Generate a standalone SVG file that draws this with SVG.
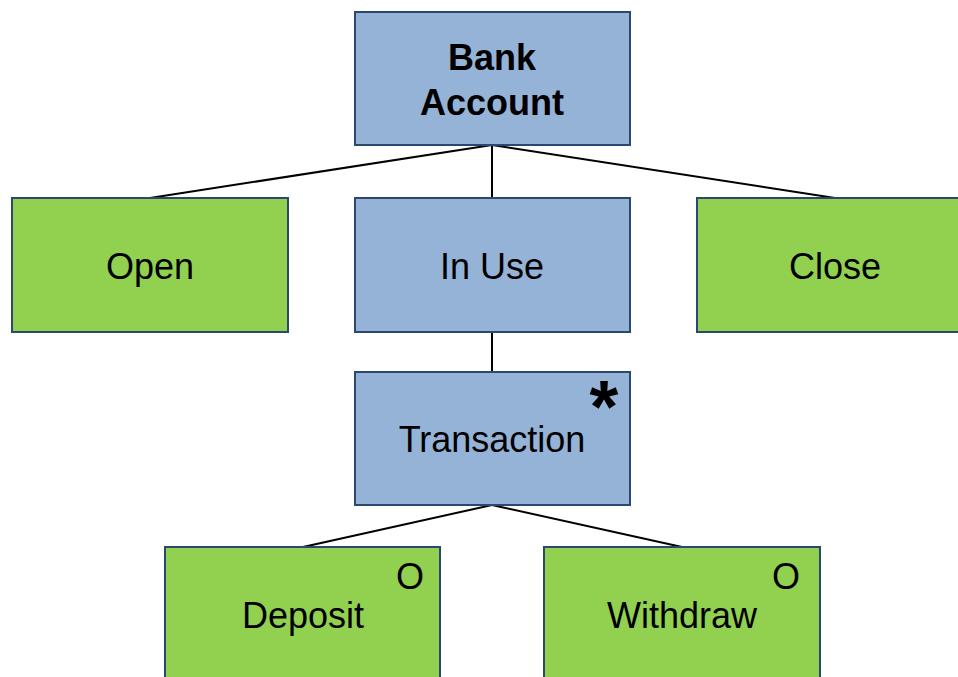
<svg xmlns="http://www.w3.org/2000/svg" width="958" height="677" viewBox="0 0 958 677">
<style>
.blue{fill:#95B3D7;stroke:#2C4770;stroke-width:2}
.green{fill:#92D050;stroke:#2C4770;stroke-width:2}
text{font-family:"Liberation Sans",Arial,sans-serif;font-size:36px;fill:#000;text-anchor:middle}
.b{font-weight:bold}
.conn line{stroke:#000;stroke-width:2}
</style>
<rect width="958" height="677" fill="#fff"/>
<g class="conn">
<line x1="492" y1="145" x2="150" y2="198"/>
<line x1="492" y1="145" x2="492" y2="198"/>
<line x1="492" y1="145" x2="835" y2="198"/>
<line x1="492" y1="332" x2="492" y2="372"/>
<line x1="492" y1="505" x2="303" y2="547"/>
<line x1="492" y1="505" x2="682" y2="547"/>
</g>
<g id="bank-account"><rect class="blue" x="355" y="12" width="275" height="133"/><text class="b" x="492" y="70">Bank</text><text class="b" x="492" y="115">Account</text></g>
<g id="open"><rect class="green" x="12" y="198" width="276" height="134"/><text x="150" y="279">Open</text></g>
<g id="in-use"><rect class="blue" x="355" y="198" width="275" height="134"/><text x="492" y="279">In Use</text></g>
<g id="close"><rect class="green" x="697" y="198" width="276" height="134"/><text x="835" y="279">Close</text></g>
<g id="transaction"><rect class="blue" x="355" y="372" width="275" height="133"/><text x="492" y="452">Transaction</text><text class="b" x="604" y="432" style="font-size:74px">*</text></g>
<g id="deposit"><rect class="green" x="165" y="547" width="275" height="140"/><text x="303" y="628">Deposit</text><text x="410" y="589">O</text></g>
<g id="withdraw"><rect class="green" x="544" y="547" width="276" height="140"/><text x="682" y="628">Withdraw</text><text x="786" y="589">O</text></g>
</svg>
